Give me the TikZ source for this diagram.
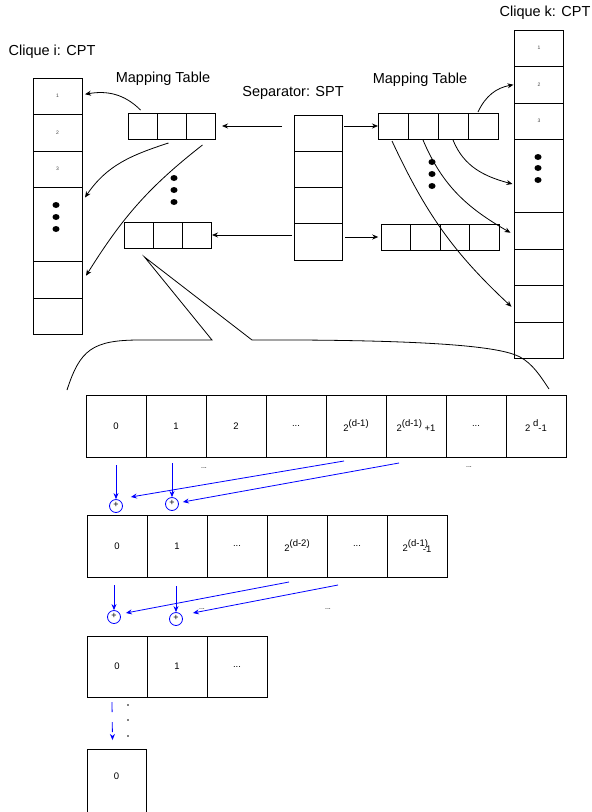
\documentclass[tikz,border=0pt]{standalone}
\usepackage{fontspec}
\setmainfont{Liberation Sans}
\usetikzlibrary{arrows.meta,positioning}

\newcommand{\up}[1]{\raisebox{5pt}{#1}}
\newcommand{\ellip}{...}

\tikzset{
  box/.style={draw, inner sep=0pt, outer sep=0pt},
  cpt/.style={box, minimum width=49pt, minimum height=36.5pt, text=black!75, font=\fontsize{5}{5}\selectfont},
  mt/.style={box, minimum width=29pt, minimum height=26pt},
  bit/.style={box, minimum width=60pt, minimum height=62pt, font=\fontsize{9.5}{11}\selectfont},
  title/.style={font=\fontsize{14.5}{17}\selectfont},
  link/.style={-{Stealth[length=6pt,width=5pt]}},
  blink/.style={link, blue},
  sum/.style={draw=blue, circle, minimum size=13pt, inner sep=0pt, font=\fontsize{9}{9}\selectfont},
  etc/.style={inner sep=0pt, font=\fontsize{7}{7}\selectfont},
}

\begin{document}
\begin{tikzpicture}[x=1pt, y=1pt, line width=0.8pt]
\useasboundingbox (0,0) rectangle (592,-812);

% clique i
\node[title] (cliquei) at (52,-52) {Clique i: CPT};
\node[cpt] (ci1) at (57.5,-96.25) {1};
\node[cpt, below=0pt of ci1] (ci2) {2};
\node[cpt, below=0pt of ci2] (ci3) {3};
\node[cpt, below=0pt of ci3, minimum height=74pt] (ci4) {};
\node[cpt, below=0pt of ci4] (ci5) {};
\node[cpt, below=0pt of ci5] (ci6) {};
\foreach \y in {205,217,229}
  \fill (56,-\y) ellipse (3.5pt and 3pt);

% separator
\node[title] (septitle) at (293,-93) {Separator: SPT};
\node[cpt, minimum width=48pt, minimum height=36.25pt] (s1) at (318,-133.1) {};
\node[cpt, minimum width=48pt, minimum height=36.25pt, below=0pt of s1] (s2) {};
\node[cpt, minimum width=48pt, minimum height=36.25pt, below=0pt of s2] (s3) {};
\node[cpt, minimum width=48pt, minimum height=36.25pt, below=0pt of s3] (s4) {};

% clique k
\node[title] (cliquek) at (545,-13) {Clique k: CPT};
\node[cpt] (ck1) at (539,-48.25) {1};
\node[cpt, below=0pt of ck1] (ck2) {2};
\node[cpt, below=0pt of ck2] (ck3) {3};
\node[cpt, below=0pt of ck3, minimum height=73pt] (ck4) {};
\node[cpt, below=0pt of ck4] (ck5) {};
\node[cpt, below=0pt of ck5] (ck6) {};
\node[cpt, below=0pt of ck6] (ck7) {};
\node[cpt, below=0pt of ck7] (ck8) {};
\foreach \y in {157,168,180}
  \fill (538,-\y) ellipse (3.5pt and 3pt);

% mapping tables, left
\node[title] (mtleft) at (163,-79) {Mapping Table};
\node[mt] (lt1) at (142.5,-126) {};
\node[mt, right=0pt of lt1] (lt2) {};
\node[mt, right=0pt of lt2] (lt3) {};
\node[mt] (lb1) at (138.5,-235) {};
\node[mt, right=0pt of lb1] (lb2) {};
\node[mt, right=0pt of lb2] (lb3) {};
\foreach \y in {178,190,202}
  \fill (174,-\y) ellipse (3.5pt and 3pt);

% mapping tables, right
\node[title] (mtright) at (420,-80) {Mapping Table};
\node[mt, minimum width=30pt] (rt1) at (393,-126) {};
\node[mt, minimum width=30pt, right=0pt of rt1] (rt2) {};
\node[mt, minimum width=30pt, right=0pt of rt2] (rt3) {};
\node[mt, minimum width=30pt, right=0pt of rt3] (rt4) {};
\node[mt, minimum width=29.5pt] (rb1) at (396,-237) {};
\node[mt, minimum width=29.5pt, right=0pt of rb1] (rb2) {};
\node[mt, minimum width=29.5pt, right=0pt of rb2] (rb3) {};
\node[mt, minimum width=29.5pt, right=0pt of rb3] (rb4) {};
\foreach \y in {162,174,186}
  \fill (432,-\y) ellipse (3.5pt and 3pt);

% separator to tables
\draw[link] ([xshift=-12pt]s1.west |- lt3.east) -- ([xshift=7pt]lt3.east);
\draw[link] ([xshift=-2pt]s4.west |- lb3.east) -- ([xshift=1pt]lb3.east);
\draw[link] ([xshift=2pt]s1.east |- rt1.west) -- (rt1.west);
\draw[link] ([xshift=3pt]s4.east |- rb1.west) -- ([xshift=-3pt]rb1.west);

% tables to cliques
\draw[link] ([xshift=-2pt,yshift=3pt]lt1.north) to[out=135, in=10] ([xshift=3pt,yshift=2pt]ci1.east);
\draw[link] ([xshift=-3pt,yshift=-4pt]lt2.south) to[out=198, in=56] ([xshift=3pt,yshift=-10pt]ci4.north east);
\draw[link] ([xshift=2pt,yshift=-6pt]lt3.south) to[out=218, in=58] ([xshift=4pt,yshift=4pt]ci5.east);
\draw[link] ([xshift=-5pt,yshift=1pt]rt4.north) to[out=65, in=190] ([xshift=-1pt]ck2.west);
\draw[link] ([yshift=-1pt]rt3.south) to[out=-68, in=165] ([xshift=-2pt,yshift=-8pt]ck4.west);
\draw[link] ([yshift=-1pt]rt2.south) to[out=-67, in=150] ([xshift=-4pt,yshift=-2pt]ck5.west);
\draw[link] ([xshift=-1pt,yshift=-2pt]rt1.south) to[out=-65, in=137] ([xshift=-3pt,yshift=-3pt]ck7.west);

% callout
\coordinate (tip) at ([xshift=6pt,yshift=-9pt]lb1.south);
\draw (67,-390) .. controls (80,-350) and (92,-340) .. (140,-340) -- (212,-340) -- (tip)
  -- (252,-340) -- (300,-340) .. controls (460,-341) and (505,-349) .. (520,-357)
  .. controls (533,-364) and (541,-377) .. (549,-389);

% level 1
\foreach \t [count=\i from 0] in {0,1,2,\ellip,2\up{(d-1)},2\up{(d-1)} +1,\ellip,2 \up{d}-1}
  \node[bit] (a\i) at (116+60*\i,-426) {\t};
\node[etc] (e1) at (204,-468) {\ellip};
\node[etc] (e2) at (469,-467) {\ellip};
\node[sum] (p0) at (116,-506) {\raisebox{3pt}{+}};
\node[sum] (p1) at (172,-504) {\raisebox{3pt}{+}};
\draw[blink] ([yshift=-8pt]a0.south) -- (p0.north);
\draw[blink] ([yshift=-6pt]a1.south -| p1.north) -- (p1.north);
\draw[blink] ([xshift=-12pt,yshift=-4pt]a4.south) -- ([xshift=8pt,yshift=9pt]p0.east);
\draw[blink] ([xshift=-17pt,yshift=-6pt]a5.south) -- ([xshift=4pt,yshift=2pt]p1.east);

% level 2
\foreach \t [count=\i from 0] in {0,1,\ellip,2\up{(d-2)},\ellip,2\up{(d-1)}\hspace{-5pt}\raisebox{-1pt}{-1}}
  \node[bit] (b\i) at (117+60*\i,-546) {\t};
\node[etc] (e3) at (202,-609) {\ellip};
\node[etc] (e4) at (328,-609) {\ellip};
\node[sum] (q0) at (114,-617) {\raisebox{3pt}{+}};
\node[sum] (q1) at (176,-619) {\raisebox{3pt}{+}};
\draw[blink] ([yshift=-8pt]b0.south -| q0.north) -- (q0.north);
\draw[blink] ([yshift=-9pt]b1.south -| q1.north) -- (q1.north);
\draw[blink] ([xshift=-8pt,yshift=-5pt]b3.south) -- ([xshift=5pt,yshift=4pt]q0.east);
\draw[blink] ([xshift=-19pt,yshift=-8pt]b4.south) -- ([xshift=10pt,yshift=6pt]q1.east);

% level 3 and last
\foreach \t [count=\i from 0] in {0,1,\ellip}
  \node[bit, minimum height=61pt] (c\i) at (117+60*\i,-666.5) {\t};
\node[bit, minimum width=59pt, minimum height=63pt, anchor=north] (f0) at (116.5,-749) {\raisebox{8pt}{0}};
\draw[blink, dash pattern=on 10pt off 10pt] ([xshift=-5pt,yshift=-5pt]c0.south) -- ([xshift=-4pt,yshift=9pt]f0.north);
\foreach \y in {705,720,736}
  \fill (128,-\y) circle (0.9pt);
\end{tikzpicture}
\end{document}
